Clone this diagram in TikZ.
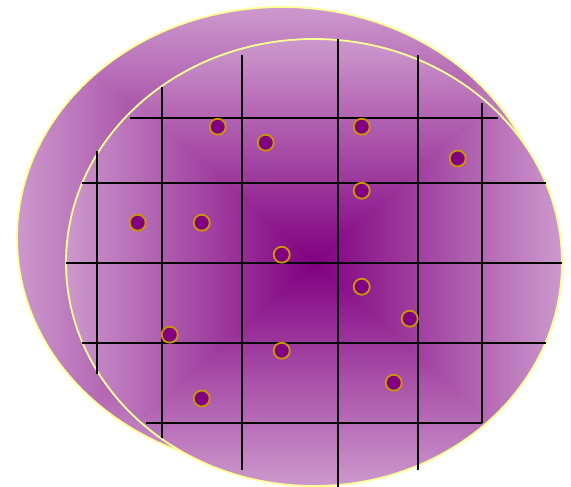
\documentclass[tikz,border=0pt]{standalone}
\pgfdeclarefunctionalshading{boxshade}{\pgfpoint{-50bp}{-50bp}}{\pgfpoint{50bp}{50bp}}{}{
  abs exch abs 2 copy sub abs add add 2 div
  25 div dup 1 sub abs neg add 1 add 2 div
  dup 0.3 mul 0.502 add
  exch 0.6 mul
  1 index
}
\definecolor{rimyellow}{RGB}{255,255,150}
\definecolor{dotfill}{RGB}{128,0,128}
\definecolor{dotring}{RGB}{204,150,0}
\tikzset{
  disc/.style={shading=boxshade, draw=rimyellow, line width=1.8pt},
  gridline/.style={draw=black, line width=2pt},
  dot/.style={circle, fill=dotfill, draw=dotring, line width=1.8pt, minimum size=16pt, inner sep=0pt}
}
\begin{document}
\begin{tikzpicture}[x=1pt,y=-1pt]
\useasboundingbox (0,0) rectangle (571,487);
% outer and inner discs
\path[disc] (282,238) ellipse [x radius=265pt, y radius=231pt];
\path[disc] (314,262.5) ellipse [x radius=248pt, y radius=223.5pt];
% vertical lines
\draw[gridline] (97,151) -- (97,374);
\draw[gridline] (162,87) -- (162,438);
\draw[gridline] (242,55) -- (242,470);
\draw[gridline] (338,39) -- (338,487);
\draw[gridline] (418,55) -- (418,470);
\draw[gridline] (482,103) -- (482,423);
% horizontal lines
\draw[gridline] (130,118.5) -- (498,118.5);
\draw[gridline] (82,182.5) -- (546,182.5);
\draw[gridline] (66,262.5) -- (562,262.5);
\draw[gridline] (82,342.5) -- (546,342.5);
\draw[gridline] (146,422.5) -- (482,422.5);
% dots
\node[dot] (d1) at (217.7,126.7) {};
\node[dot] (d2) at (265.7,142.7) {};
\node[dot] (d3) at (361.7,126.7) {};
\node[dot] (d4) at (457.7,158.5) {};
\node[dot] (d5) at (361.7,190.7) {};
\node[dot] (d6) at (137.7,222.7) {};
\node[dot] (d7) at (201.7,222.7) {};
\node[dot] (d8) at (281.7,254.7) {};
\node[dot] (d9) at (361.7,286.7) {};
\node[dot] (d10) at (409.7,318.7) {};
\node[dot] (d11) at (169.7,334.7) {};
\node[dot] (d12) at (281.7,350.7) {};
\node[dot] (d13) at (393.7,382.7) {};
\node[dot] (d14) at (201.7,398.5) {};
\end{tikzpicture}
\end{document}
